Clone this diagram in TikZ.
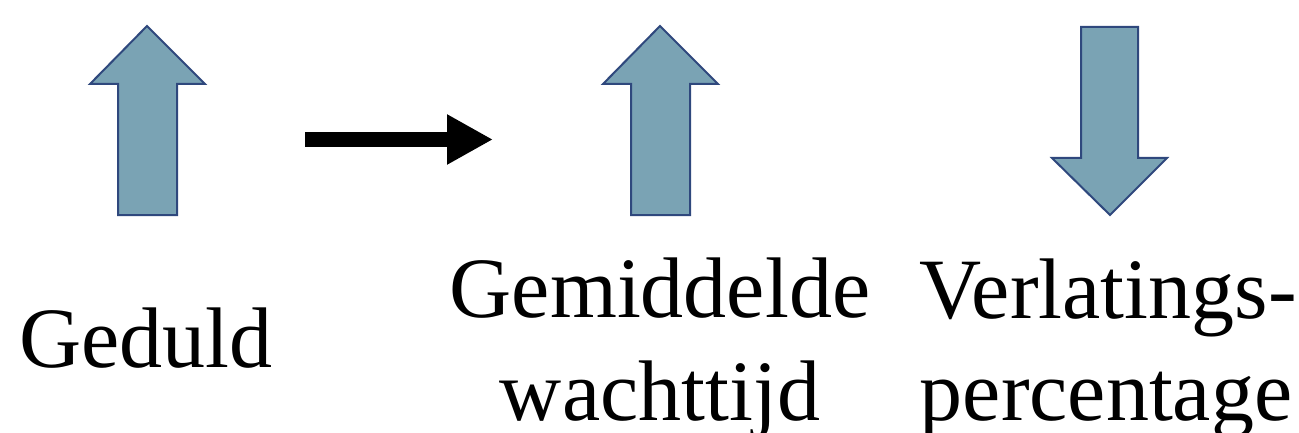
\documentclass[tikz,border=0pt]{standalone}
\usepackage{fontspec}
\setmainfont{Liberation Serif}
\usetikzlibrary{arrows.meta}
\definecolor{arrfill}{RGB}{122,163,180}
\definecolor{arrdraw}{RGB}{47,72,125}
\begin{document}
\begin{tikzpicture}[x=1pt,y=-1pt,
  blockarrow/.style={fill=arrfill,draw=arrdraw,line width=2pt,line join=miter},
  label/.style={anchor=base,inner sep=0pt,font=\fontsize{86}{103}\selectfont}]
\useasboundingbox (0,0) rectangle (1299,433);
% up arrow 1
\draw[blockarrow] (147,26) -- (205,84) -- (177,84) -- (177,215) -- (118,215) -- (118,84) -- (90,84) -- cycle;
% up arrow 2
\draw[blockarrow] (660,26) -- (718,84) -- (690,84) -- (690,215) -- (631,215) -- (631,84) -- (603,84) -- cycle;
% down arrow
\draw[blockarrow] (1110,215) -- (1167,158) -- (1138,158) -- (1138,27) -- (1081,27) -- (1081,158) -- (1052,158) -- cycle;
% black arrow
\coordinate (bs) at (305,139.5);
\coordinate (be) at (493,139.5);
\draw[line width=15pt,-{Triangle[length=46pt,width=47pt]}] (bs) -- (be);
% labels
\node[label] (ged) at (146,367) {Geduld};
\node[label] (gem1) at (660,317) {Gemiddelde};
\node[label] (gem2) at (660,420) {wachttijd};
\node[label] (ver1) at (1108,318) {Verlatings-};
\node[label] (ver2) at (1106,420) {percentage};
\end{tikzpicture}
\end{document}
